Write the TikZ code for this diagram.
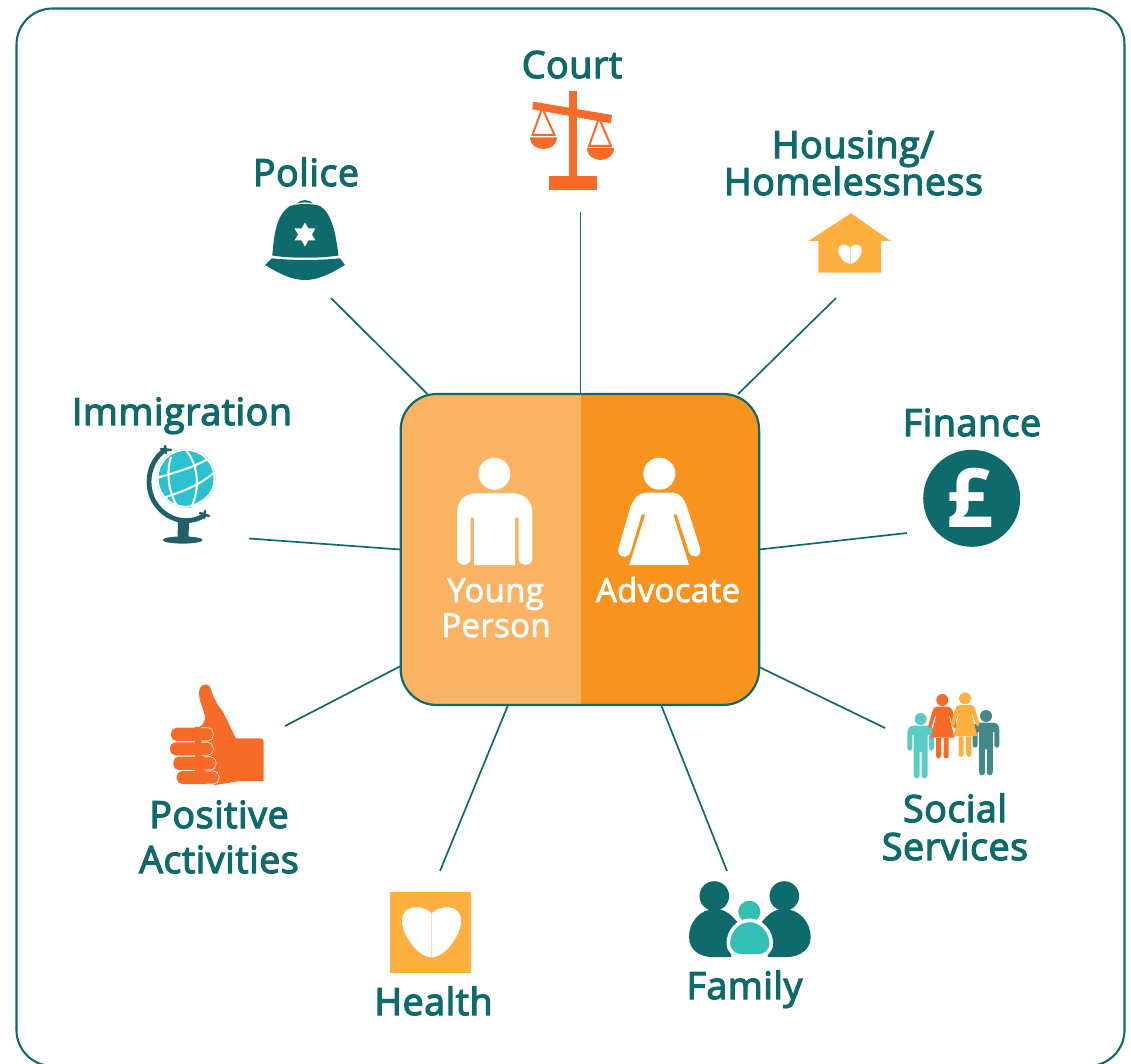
\documentclass[tikz,border=0pt]{standalone}
\usepackage{fontspec}
\newfontfamily\semib{Open Sans}[FakeBold=3.4,LetterSpace=1.6]
\newfontfamily\medm{Open Sans}[FakeBold=2.2,LetterSpace=1]
\newfontfamily\poundfont{Open Sans Bold}
\setmainfont{Open Sans}
\usetikzlibrary{calc}
\definecolor{teal1}{HTML}{0F6A6C}
\definecolor{orange1}{HTML}{F56B27}
\definecolor{hubL}{HTML}{FAB363}
\definecolor{hubR}{HTML}{F7931E}
\definecolor{amber}{HTML}{FDB03F}
\definecolor{turq}{HTML}{33BFB4}
\definecolor{globeC}{HTML}{2CC1CE}
\definecolor{globeD}{HTML}{1F6166}
\definecolor{manL}{HTML}{5CCBC4}
\definecolor{manD}{HTML}{44888A}
\definecolor{gapline}{HTML}{F3DCC8}
\tikzset{
  conn/.style={draw=teal1,line width=1.7pt},
  label/.style={text=teal1,font=\fontsize{37.5}{37.5}\semib,anchor=base,inner sep=0pt},
  hubtext/.style={text=white,font=\fontsize{33}{35}\medm,inner sep=0pt},
  hubbox/.style={rectangle,minimum width=358.5pt,minimum height=311pt,inner sep=0pt,outer sep=0pt},
}
\newcommand{\smallman}[3]{% dx dy colour
  \begin{scope}[shift={(#1,#2)}]
    \fill[#3] (920.7,719) circle[radius=6];
    \fill[#3] (907.3,733) .. controls (907.3,728) and (910,725.7) .. (914,725.7) -- (927.5,725.7) .. controls (931.5,725.7) and (934,728) .. (934,733)
      -- (934,748) .. controls (934,751.5) and (929,751.5) .. (929,748) -- (929,735) -- (927.5,735) -- (927.5,775)
      .. controls (927.5,779.5) and (921.5,779.5) .. (921.5,775) -- (921.5,752) -- (919.7,752) -- (919.7,775)
      .. controls (919.7,779.5) and (913.7,779.5) .. (913.7,775) -- (913.7,735) -- (912.3,735) -- (912.3,748)
      .. controls (912.3,751.5) and (907.3,751.5) .. (907.3,748) -- cycle;
  \end{scope}}
\newcommand{\smallwoman}[3]{%
  \begin{scope}[shift={(#1,#2)}]
    \fill[#3] (942.3,700) circle[radius=6];
    \fill[#3] (936,738) -- (941,738) -- (941,755.5) .. controls (941,759.5) and (936,759.5) .. (936,755.5) -- cycle;
    \fill[#3] (943.5,738) -- (948.7,738) -- (948.7,755.5) .. controls (948.7,759.5) and (943.5,759.5) .. (943.5,755.5) -- cycle;
    \fill[#3] (937.5,706.7) -- (947.5,706.7) .. controls (950.5,706.7) and (951.5,708) .. (952.5,711)
      -- (956.6,725) .. controls (957.5,728.5) and (954,729) .. (953.2,726.3) -- (949.8,716) -- (949,716)
      -- (954.5,737.7) -- (930.7,737.7) -- (936,716) -- (935.2,716) -- (931.8,726.3)
      .. controls (931,729) and (927.5,728.5) .. (928.4,725) -- (932.5,711) .. controls (933.5,708) and (934.5,706.7) .. (937.5,706.7) -- cycle;
  \end{scope}}
\begin{document}
\begin{tikzpicture}[x=1pt,y=-1pt]
\useasboundingbox (0,0) rectangle (1131,1064);
\clip (0,0) rectangle (1131,1064);
% frame
\node[draw=teal1,line width=2.1pt,rectangle,rounded corners=36pt,minimum width=1108pt,minimum height=1057.5pt,inner sep=0pt,outer sep=0pt] (frame) at (570.5,537.25) {};
% hub placeholder
\node[hubbox] (hub) at (579.9,549.5) {};
% free ends
\coordinate (pPolice) at (331,298);
\coordinate (pCourt) at (580.5,212);
\coordinate (pHousing) at (836,298);
\coordinate (pFinance) at (907,533);
\coordinate (pImmig) at (249,538.5);
\coordinate (pPositive) at (285,726);
\coordinate (pHealth) at (440,871);
\coordinate (pFamily) at (727,871);
\coordinate (pSocial) at (885,728);
% connectors
\draw[conn] (pPolice) -- ($(hub.north west)+(26.8,0)$);
\draw[conn] (pCourt) -- (pCourt |- hub.north);
\draw[conn] (pHousing) -- ($(hub.north east)+(-21,0)$);
\draw[conn] (pFinance) -- (hub.east);
\draw[conn] (pImmig) -- (hub.west);
\draw[conn] (pPositive) -- ($(hub.south west)+(0,-39)$);
\draw[conn] (pHealth) -- ($(hub.south west)+(107.4,0)$);
\draw[conn] (pFamily) -- ($(hub.south east)+(-98,0)$);
\draw[conn] (pSocial) -- ($(hub.south east)+(0,-38)$);
% hub fill
\begin{scope}
  \path[clip,rounded corners=36pt] (hub.north west) rectangle (hub.south east);
  \fill[hubL] (hub.north west) rectangle ($(hub.south)+(0.7,0)$);
  \fill[hubR] ($(hub.north)+(0.7,0)$) rectangle (hub.south east);
\end{scope}
\draw[teal1,line width=2.2pt,rounded corners=36pt] (hub.north west) rectangle (hub.south east);
% man
\fill[white] (494.3,473.7) circle[radius=16];
\fill[white] (457,512) .. controls (457,501) and (465,493.3) .. (476,493.3) -- (513,493.3) .. controls (524,493.3) and (532.3,501) .. (532.3,512)
  -- (532.3,558) .. controls (532.3,567) and (518.7,567) .. (518.7,558) -- (518.7,517.7) -- (515,517.7) -- (515,565) -- (474,565)
  -- (474,517.7) -- (470.7,517.7) -- (470.7,558) .. controls (470.7,567) and (457,567) .. (457,558) -- cycle;
% woman
\fill[white] (659.3,473.7) circle[radius=16];
\fill[white] (645,492.7) -- (673.3,492.7) .. controls (680,492.7) and (685,500) .. (687.3,508.3)
  -- (700,548) .. controls (702.5,557) and (692,560) .. (689,552) -- (676.7,514.3) -- (673.3,514.3) -- (689,565) -- (629.3,565)
  -- (645.3,514.3) -- (641.7,514.3) -- (630.5,552) .. controls (627.5,560) and (616,557) .. (618.5,548)
  -- (630,508.3) .. controls (633,500) and (638,492.7) .. (645,492.7) -- cycle;
\node[hubtext,anchor=base] (tYoung) at (495.5,602) {Young};
\node[hubtext,anchor=base] (tPerson) at (496,637) {Person};
\node[hubtext,anchor=base] (tAdvocate) at (668,602) {Advocate};
% Court icon
\fill[orange1] (569,91) rectangle (577,178);
\fill[orange1] (549,176) rectangle (597,190);
\fill[orange1] (533.3,101.7) -- (612,115) -- (610.7,123.3) -- (532.3,109.3) -- cycle;
\draw[orange1,line width=2pt,line join=miter] (542.3,108) -- (532.5,135) -- (554.5,135) -- cycle;
\fill[orange1] (530,137.3) -- (557,137.3) .. controls (557,145) and (550,149) .. (543.5,149) .. controls (537,149) and (530,145) .. (530,137.3) -- cycle;
\draw[orange1,line width=2pt,line join=miter] (599,118) -- (589,146) -- (611,146) -- cycle;
\fill[orange1] (587,148) -- (614,148) .. controls (614,156) and (607,160) .. (600.5,160) .. controls (594,160) and (587,156) .. (587,148) -- cycle;
% Police icon
\fill[teal1] (297,203.5) .. controls (300,199) and (310,199) .. (313,203.5) .. controls (307,202) and (303,202) .. (297,203.5) -- cycle;
\fill[teal1] (272.3,255.5) .. controls (274,235) and (276,215) .. (290,206) .. controls (298,203.3) and (312,203.3) .. (320,206)
  .. controls (332,213) and (336,235) .. (338.5,255.5) .. controls (320,258.5) and (290,258.5) .. (272.3,255.5) -- cycle;
\fill[teal1] (271.7,258.3) .. controls (290,260.5) and (320,260.5) .. (340,258.3) -- (345,265) .. controls (330,274) and (318,280) .. (305,280)
  .. controls (292,280) and (280,274) .. (265,265) -- cycle;
\fill[white] (305,222.5) -- (315.4,240.5) -- (294.6,240.5) -- cycle;
\fill[white] (305,246.5) -- (315.4,228.5) -- (294.6,228.5) -- cycle;
% Housing icon
\fill[amber] (851,213.3) -- (890.7,241) -- (881,241) -- (881,272.7) -- (818.3,272.7) -- (818.3,241) -- (808.3,241) -- cycle;
\fill[white] (850,247.5) .. controls (846,243) and (838.3,243.5) .. (838.3,250.5) .. controls (838.3,256) and (845,264) .. (850,264)
  .. controls (855,264) and (861.7,256) .. (861.7,250.5) .. controls (861.7,243.5) and (854,243) .. (850,247.5) -- cycle;
\draw[gapline,line width=0.4pt] (850,247.5) -- (850,264);
% Finance icon
\fill[teal1] (971.7,498.3) circle[radius=48.5];
\node[text=white,inner sep=0pt,font=\fontsize{82}{82}\poundfont] (tPound) at (970,498) {£};
% Immigration icon
\fill[globeC] (186,478.3) circle[radius=27.5];
\draw[globeC!35,line width=0.5pt] (186,478.3) circle[radius=29.5];
\begin{scope}
  \clip (186,478.3) circle[radius=28];
  \draw[white,line width=2pt] (157,478) .. controls (175,472) and (195,468) .. (212,456);
  \draw[white,line width=2pt] (160,499) .. controls (178,493) and (198,487) .. (216,471);
  \draw[white,line width=2pt] (178,511) .. controls (190,508) and (205,502) .. (214,490);
  \draw[white,line width=2pt] (171,457) .. controls (165,475) and (170,498) .. (181,512);
  \draw[white,line width=2pt] (186,450) .. controls (200,468) and (200,492) .. (189,512);
\end{scope}
\draw[globeD,line width=4.8pt] (165,450) .. controls (155,456.7) and (149,468.8) .. (149,482) .. controls (149,511) and (180,531) .. (205,515);
\draw[globeD,line width=2.5pt,line cap=round] (161,449) -- (171,450);
\draw[globeD,line width=2.5pt,line cap=round] (165,446) -- (166,453);
\draw[globeD,line width=2.5pt,line cap=round] (200,513) -- (209,516);
\draw[globeD,line width=2.5pt,line cap=round] (205,511) -- (204,518);
\fill[globeD] (178,522) -- (189,522) -- (188.5,538) -- (177.5,538) -- cycle;
\fill[globeD] (182.7,540) ellipse[x radius=20, y radius=3.6];
% Positive icon
\fill[orange1] (203.3,685) .. controls (207,684) and (209,685) .. (210,687) .. controls (213,695) and (215,702) .. (221,709)
  .. controls (227,718) and (231,730) .. (236,738.3) -- (260,738.3) .. controls (262.5,738.3) and (263.5,739.5) .. (263.5,741)
  -- (263.5,781) -- (240,781) -- (215,785) -- (195,775) -- (195,727) -- (200,726.7) .. controls (204,724) and (205,720) .. (205,716)
  .. controls (203,708) and (199,700) .. (199,694) .. controls (199,690) and (200,686) .. (203.3,685) -- cycle;
\foreach \xa/\xb/\ya/\yb in {171/213.3/727.7/741, 170/213.3/742.3/755.3, 173.3/216/756.7/770, 176.7/219/771/784}{
  \fill[orange1,rounded corners=5.5pt] (\xa,\ya) rectangle (\xb,\yb);
  \draw[white,line width=0.6pt,rounded corners=5.5pt] (\xb-12,\ya) -- (\xb,\ya) -- (\xb,\yb) -- (\xb-12,\yb);
}
% Social icon
\smallman{65.3}{-3}{manD}
\smallman{0}{0}{manL}
\smallwoman{0}{0}{orange1}
\smallwoman{22.7}{-1.7}{amber}
% Family icon
\fill[teal1] (714.3,896) circle[radius=14.8];
\fill[teal1] (784.3,896) circle[radius=14.8];
\fill[teal1] (715,909) .. controls (700,909) and (689,922) .. (689,937) .. controls (689,950) and (700,957) .. (712,957) -- (731,957) -- (738,923) .. controls (732,915) and (725,909) .. (715,909) -- cycle;
\fill[teal1] (784,909) .. controls (799,909) and (810.7,922) .. (810.7,937) .. controls (810.7,950) and (799,957) .. (787,957) -- (768,957) -- (761,923) .. controls (767,915) and (774,909) .. (784,909) -- cycle;
\fill[white] (749.3,911.7) circle[radius=13];
\fill[turq] (749.3,911.7) circle[radius=11];
\draw[white,line width=3.6pt,fill=turq] (749.5,920.3) .. controls (737,920.3) and (728.3,932) .. (728.3,943) .. controls (728.3,951) and (734,956) .. (742,956) -- (758,956) .. controls (766,956) and (771.2,951) .. (771.2,943) .. controls (771.2,932) and (762,920.3) .. (749.5,920.3) -- cycle;
% Health icon
\fill[amber] (390,892.3) rectangle (471,972.7);
\fill[white] (431.7,913.3) .. controls (424,905) and (402,903) .. (402,921) .. controls (402,935) and (418,957.3) .. (431.7,957.3)
  .. controls (445,957.3) and (461,935) .. (461,921) .. controls (461,903) and (439,905) .. (431.7,913.3) -- cycle;
\draw[gapline,line width=0.5pt] (431.7,913.3) -- (431.7,957.3);
% Labels
\node[label] (tCourt) at (572,78) {Court};
\node[label] (tPolice) at (306,186) {Police};
\node[label] (tHousing) at (853,158) {Housing/};
\node[label] (tHomeless) at (853.5,195) {Homelessness};
\node[label] (tFinance) at (972,436) {Finance};
\node[label] (tImmig) at (182,425) {Immigration};
\node[label] (tPositive) at (219,828) {Positive};
\node[label] (tActivities) at (219,873) {Activities};
\node[label] (tSocial) at (955,822) {Social};
\node[label] (tServices) at (955,860) {Services};
\node[label] (tFamily) at (744.5,999) {Family};
\node[label] (tHealth) at (433.5,1015) {Health};
\end{tikzpicture}
\end{document}
